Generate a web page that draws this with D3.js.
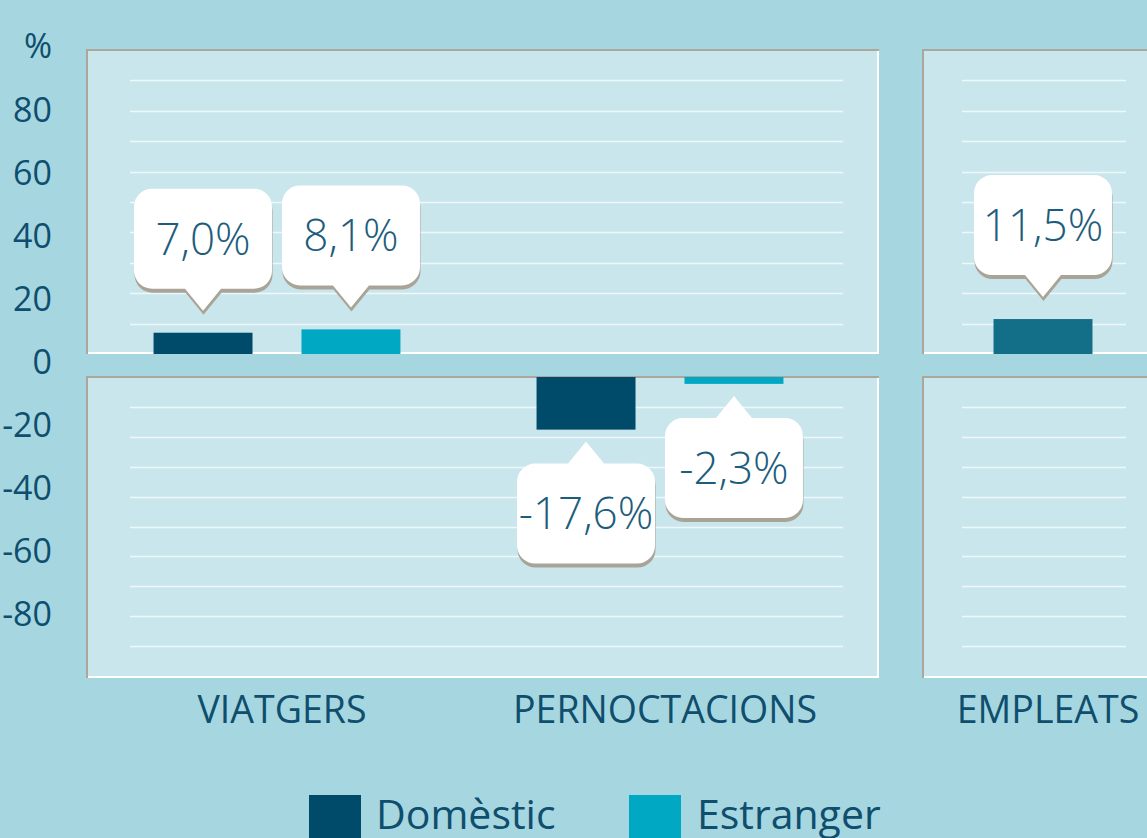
<!DOCTYPE html>
<html>
<head>
<meta charset="utf-8">
<script src="https://cdn.jsdelivr.net/npm/d3@7"></script>
<style>
  html, body { margin: 0; padding: 0; background: #a6d7e1; overflow: hidden; }
  svg { display: block; font-family: "Open Sans", "Noto Sans", sans-serif; }
</style>
</head>
<body>
<svg id="chart" width="1147" height="838"></svg>
<script>
'use strict';

// Chart data
const categories = ['VIATGERS', 'PERNOCTACIONS', 'EMPLEATS'];
const series = ['Domèstic', 'Estranger'];
const domestic = [7.0, -17.6, null];
const foreign = [8.1, -2.3, null];
const employees = [null, null, 11.5];
const tickValues = [100, 80, 60, 40, 20, 0, -20, -40, -60, -80];
const gridTop = [10, 20, 30, 40, 50, 60, 70, 80, 90];
const gridBottom = [-10, -20, -30, -40, -50, -60, -70, -80, -90];

const width = 1147;
const height = 838;
const colors = { 'Domèstic': '#004a6a', 'Estranger': '#00a8c4', 'Total': '#136f87' };
const textColor = '#0f4e6d';
const labelColor = '#1d5d7c';

const svg = d3.select('#chart');

// Scales
const x = d3.scaleBand().domain(categories).range([86.5, 86.5 + 383 * 3]);
const xInner = d3.scaleBand().domain(series).range([0, x.bandwidth()])
    .paddingInner(0.331).paddingOuter(0.46);
const barWidth = xInner.bandwidth();
const yTop = d3.scaleLinear().domain([0, 100]).range([354, 50]);
const yBottom = d3.scaleLinear().domain([0, -100]).range([377, 676]);
const yLabel = d3.scaleLinear().domain([100, -80]).range([47, 615]);

// Panels (two columns, split above/below zero)
const panels = [
    { x0: 86, x1: 879, gx0: 130, gx1: 843 },
    { x0: 922, x1: 1170, gx0: 962, gx1: 1126 }
];
const rows = [
    { y0: 49, y1: 354, scale: yTop, grid: gridTop },
    { y0: 376, y1: 678, scale: yBottom, grid: gridBottom }
];

panels.forEach(p => {
    rows.forEach(r => {
        const g = svg.append('g');
        g.append('rect')
            .attr('x', p.x0).attr('y', r.y0)
            .attr('width', p.x1 - p.x0).attr('height', r.y1 - r.y0)
            .attr('fill', '#c9e6ec');
        g.selectAll('line.grid')
            .data(r.grid)
            .join('line')
            .attr('class', 'grid')
            .attr('x1', p.gx0).attr('x2', p.gx1)
            .attr('y1', d => Math.round(r.scale(d)) + 0.5)
            .attr('y2', d => Math.round(r.scale(d)) + 0.5)
            .attr('stroke', '#eef7f9')
            .attr('stroke-width', 1.5);
        // inset style border: grey top/left, white bottom/right
        g.append('path')
            .attr('d', `M${p.x0 + 1},${r.y1}V${r.y0 + 1}H${p.x1}`)
            .attr('fill', 'none').attr('stroke', '#aba79d').attr('stroke-width', 2);
        g.append('path')
            .attr('d', `M${p.x0 + 2},${r.y1 - 1}H${p.x1 - 1}V${r.y0 + 2}`)
            .attr('fill', 'none').attr('stroke', '#ffffff').attr('stroke-width', 2);
    });
});

// Y axis labels
const yAxis = d3.axisLeft(yLabel)
    .tickValues(tickValues)
    .tickSize(0)
    .tickPadding(0)
    .tickFormat(d => d === 100 ? '%' : d);
const axisG = svg.append('g')
    .attr('transform', 'translate(52,0)')
    .call(yAxis);
axisG.select('.domain').remove();
axisG.selectAll('text')
    .attr('font-family', '"Open Sans", sans-serif')
    .attr('font-size', 34)
    .attr('fill', textColor);

// Bar records
const bars = [];
categories.forEach((c, i) => {
    if (domestic[i] != null) bars.push({ cat: c, key: 'Domèstic', value: domestic[i], x: x(c) + xInner('Domèstic') });
    if (foreign[i] != null) bars.push({ cat: c, key: 'Estranger', value: foreign[i], x: x(c) + xInner('Estranger') });
    if (employees[i] != null) bars.push({ cat: c, key: 'Total', value: employees[i], x: x(c) + x.bandwidth() / 2 - barWidth / 2 });
});

function barY(d) {
    return d.value >= 0 ? yTop(d.value) : yBottom(0);
}
function barH(d) {
    return d.value >= 0 ? yTop(0) - yTop(d.value) : yBottom(d.value) - yBottom(0);
}

svg.append('g')
    .selectAll('rect')
    .data(bars)
    .join('rect')
    .attr('x', d => d.x - 1)
    .attr('y', barY)
    .attr('width', barWidth)
    .attr('height', barH)
    .attr('fill', d => colors[d.key]);

// Callout labels
const boxW = 138, boxH = 100, rad = 18, tipW = 36, tipH = 22;

function calloutPath(cx, y0, dir) {
    const x0 = cx - boxW / 2, x1 = cx + boxW / 2, y1 = y0 + boxH;
    let p = `M${x0 + rad},${y0}`;
    if (dir === 'up') p += `L${cx - tipW / 2},${y0}L${cx},${y0 - tipH}L${cx + tipW / 2},${y0}`;
    p += `L${x1 - rad},${y0}A${rad},${rad} 0 0 1 ${x1},${y0 + rad}`;
    p += `L${x1},${y1 - rad}A${rad},${rad} 0 0 1 ${x1 - rad},${y1}`;
    if (dir === 'down') p += `L${cx + tipW / 2},${y1}L${cx},${y1 + tipH}L${cx - tipW / 2},${y1}`;
    p += `L${x0 + rad},${y1}A${rad},${rad} 0 0 1 ${x0},${y1 - rad}`;
    p += `L${x0},${y0 + rad}A${rad},${rad} 0 0 1 ${x0 + rad},${y0}Z`;
    return p;
}

const fmt = v => d3.format('.1f')(v).replace('.', ',').replace('−', '-') + '%';

const callouts = bars.map(d => {
    const cx = d.x - 1 + barWidth / 2;
    let y0, dir;
    if (d.value >= 0) {
        const tip = yTop(d.value) - 22;
        y0 = tip - tipH - boxH;
        dir = 'down';
    } else {
        const tip = yBottom(d.value) + 16;
        y0 = tip + tipH - 4;
        dir = 'up';
    }
    return { cx, y0, dir, text: fmt(d.value) };
});

const cg = svg.append('g')
    .selectAll('g')
    .data(callouts)
    .join('g');

cg.append('path')
    .attr('d', d => calloutPath(d.cx, d.y0, d.dir))
    .attr('transform', 'translate(0.5,4)')
    .attr('fill', '#a9a497');
cg.append('path')
    .attr('d', d => calloutPath(d.cx, d.y0, d.dir))
    .attr('fill', '#ffffff');
cg.append('text')
    .attr('x', d => d.cx)
    .attr('y', d => d.y0 + boxH / 2)
    .attr('dy', '0.36em')
    .attr('text-anchor', 'middle')
    .attr('font-size', 44)
    .attr('font-weight', 300)
    .attr('fill', labelColor)
    .text(d => d.text);

// Category labels
svg.append('g')
    .selectAll('text')
    .data(categories)
    .join('text')
    .attr('x', d => x(d) + x.bandwidth() / 2 + 4)
    .attr('y', 723)
    .attr('text-anchor', 'middle')
    .attr('font-size', 37.5)
    .attr('fill', textColor)
    .text(d => d);

// Legend
const legendX = [309, 629];
const legend = svg.append('g')
    .selectAll('g')
    .data(series)
    .join('g')
    .attr('transform', (d, i) => `translate(${legendX[i]},795)`);
legend.append('rect')
    .attr('width', 52).attr('height', 50)
    .attr('fill', d => colors[d]);
legend.append('text')
    .attr('x', (d, i) => i === 0 ? 67 : 68)
    .attr('y', 34)
    .attr('font-size', 41)
    .attr('fill', textColor)
    .text(d => d);
</script>
</body>
</html>
